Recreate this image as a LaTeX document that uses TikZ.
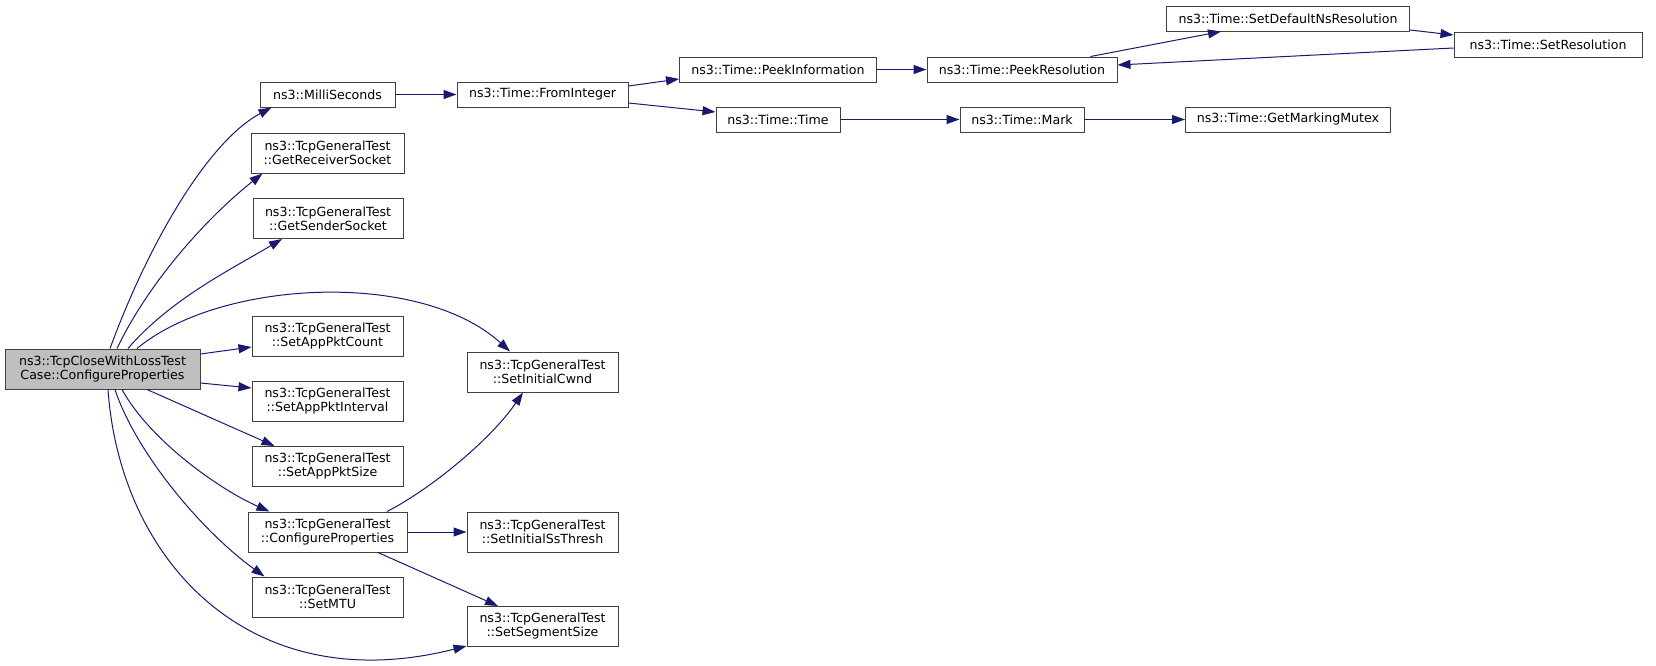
\documentclass[tikz,border=0pt]{standalone}
\usepackage{fontspec}
\setmainfont{DejaVu Sans}
\usetikzlibrary{arrows.meta}
\definecolor{edgeblue}{HTML}{191970}
\definecolor{boxline}{HTML}{404040}
\definecolor{boxfill}{HTML}{BFBFBF}
\tikzset{
	fnode/.style={draw=boxline, line width=1pt, fill=white, inner sep=0pt, align=center,
		minimum height=25pt, font=\fontsize{12.6}{14}\selectfont},
	tall/.style={minimum height=40pt},
	call/.style={draw=edgeblue, line width=1pt, -{Triangle[length=13pt,width=9pt]}}
}
\begin{document}
\begin{tikzpicture}[x=1pt,y=-1pt]
			\useasboundingbox (0,0) rectangle (1656,665);

			\node[fnode,tall,fill=boxfill,minimum width=195pt] (main) at (102.5,369) {ns3::TcpCloseWithLossTest\\Case::ConfigureProperties};

			\node[fnode,minimum width=135pt] (milli) at (327.5,94.5) {ns3::MilliSeconds};
			\node[fnode,minimum width=171pt] (fromint) at (542.5,94.5) {ns3::Time::FromInteger};
			\node[fnode,minimum width=197pt] (peekinfo) at (778,69.5) {ns3::Time::PeekInformation};
			\node[fnode,minimum width=190pt] (peekres) at (1022,69.5) {ns3::Time::PeekResolution};
			\node[fnode,minimum width=124pt] (time) at (778,119.5) {ns3::Time::Time};
			\node[fnode,minimum width=124pt] (mark) at (1022,119.5) {ns3::Time::Mark};
			\node[fnode,minimum width=243pt] (setdef) at (1288,18.5) {ns3::Time::SetDefaultNsResolution};
			\node[fnode,minimum width=188pt] (setres) at (1548,44.5) {ns3::Time::SetResolution};
			\node[fnode,minimum width=205pt] (mutex) at (1288,119.5) {ns3::Time::GetMarkingMutex};

			\node[fnode,tall,minimum width=153pt] (getrecv) at (327.5,153) {ns3::TcpGeneralTest\\::GetReceiverSocket};
			\node[fnode,tall,minimum width=150pt] (getsend) at (328,218.5) {ns3::TcpGeneralTest\\::GetSenderSocket};
			\node[fnode,tall,minimum width=151pt] (count) at (327.5,336) {ns3::TcpGeneralTest\\::SetAppPktCount};
			\node[fnode,tall,minimum width=151pt] (interval) at (327.5,401) {ns3::TcpGeneralTest\\::SetAppPktInterval};
			\node[fnode,tall,minimum width=151pt] (size) at (327.5,466.5) {ns3::TcpGeneralTest\\::SetAppPktSize};
			\node[fnode,tall,minimum width=159pt] (cgconf) at (327.5,532) {ns3::TcpGeneralTest\\::ConfigureProperties};
			\node[fnode,tall,minimum width=151pt] (mtu) at (327.5,597) {ns3::TcpGeneralTest\\::SetMTU};
			\node[fnode,tall,minimum width=151pt] (cwnd) at (542.5,372) {ns3::TcpGeneralTest\\::SetInitialCwnd};
			\node[fnode,tall,minimum width=151pt] (ssth) at (542.5,532) {ns3::TcpGeneralTest\\::SetInitialSsThresh};
			\node[fnode,tall,minimum width=151pt] (seg) at (542.5,626.5) {ns3::TcpGeneralTest\\::SetSegmentSize};

			\draw[call] ([xshift=7.5pt]main.north) .. controls +(40,-109) and +(-62,33) .. ([xshift=12pt]milli.south west);
			\draw[call] ([xshift=14.5pt]main.north) .. controls +(33,-69) and +(-53,42) .. ([xshift=12pt]getrecv.south west);
			\draw[call] ([xshift=25.5pt]main.north) .. controls +(42,-49) and +(-52,31) .. ([xshift=-46pt]getsend.south);
			\draw[call] ([xshift=34.5pt]main.north) .. controls +(83,-69) and +(-90,-82) .. ([xshift=-32.5pt]cwnd.north);
			\draw[call] ([yshift=15pt]main.east) -- ([yshift=-11pt]count.west);
			\draw[call] ([yshift=-14pt]main.east) -- ([yshift=13pt]interval.west);
			\draw[call] ([xshift=44.5pt]main.south) -- ([xshift=23pt]size.north west);
			\draw[call] ([xshift=19.5pt]main.south) .. controls +(28,51) and +(-50,-22) .. ([xshift=22pt]cgconf.north west);
			\draw[call] ([xshift=12.5pt]main.south) .. controls +(20,61) and +(-65,-47) .. ([xshift=13pt]mtu.north west);
			\draw[call] ([xshift=5.5pt]main.south) .. controls +(12,171) and +(-217,55) .. ([yshift=1pt]seg.south west);

			\draw[call] ([xshift=59.5pt]cgconf.north) .. controls +(43,-22) and +(-33,48) .. ([xshift=-19.5pt]cwnd.south);
			\draw[call] (cgconf.east) -- (ssth.west);
			\draw[call] ([xshift=50.5pt]cgconf.south) -- ([xshift=-44.5pt]seg.north);

			\draw[call] (milli.east) -- (fromint.west);
			\draw[call] ([yshift=8.5pt]fromint.east) -- ([yshift=-9.5pt]peekinfo.west);
			\draw[call] ([yshift=-8.5pt]fromint.east) -- ([yshift=7.5pt]time.west);
			\draw[call] (peekinfo.east) -- (peekres.west);
			\draw[call] ([xshift=-27pt]peekres.north east) -- ([xshift=55pt]setdef.south west);
			\draw[call] ([yshift=-11.5pt]setdef.east) -- ([yshift=9.5pt]setres.west);
			\draw[call] ([yshift=-3.5pt]setres.west) -- ([yshift=4.5pt]peekres.east);
			\draw[call] (time.east) -- (mark.west);
			\draw[call] (mark.east) -- (mutex.west);
\end{tikzpicture}
\end{document}
